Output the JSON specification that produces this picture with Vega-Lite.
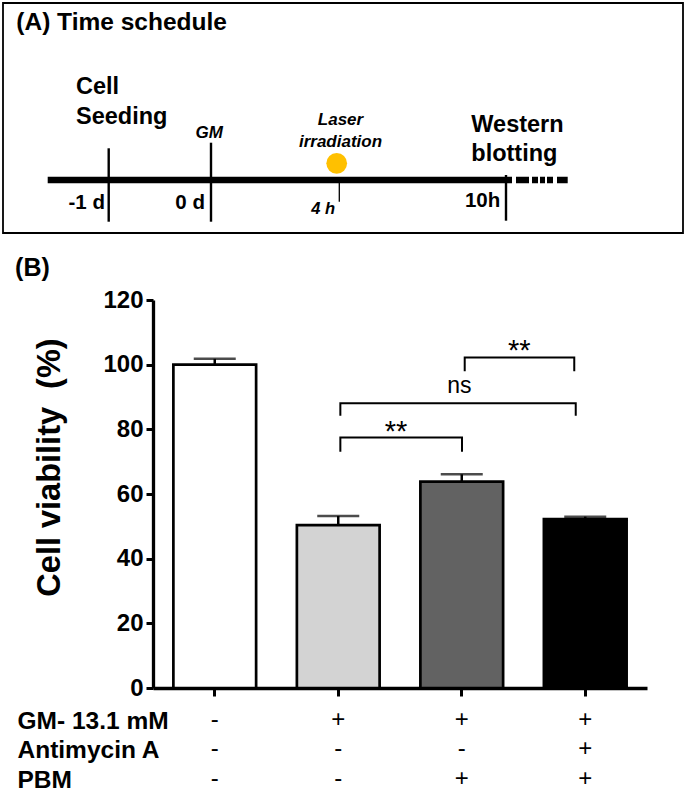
{
  "$schema": "https://vega.github.io/schema/vega-lite/v6.json",
  "padding": {"left": 2, "top": 2, "right": 0, "bottom": 0},
  "config": {"font": "Liberation Sans", "view": {"stroke": null}},
  "datasets": {
    "frame": [{"x": -28.302, "x2": 100, "y": 0, "y2": 100}],
    "schedLine": [
      {"seg": "solid", "x": -19.868, "x2": 67.736, "y": 23.04},
      {"seg": "dashed", "x": 67.736, "x2": 78.245, "y": 23.04}
    ],
    "schedMarks": [
      {"event": "-1 d", "x": -8.358, "y": 4.91, "y2": 36.83, "kind": "major"},
      {"event": "0 d", "x": 10.943, "y": 4.91, "y2": 39.26, "kind": "major"},
      {"event": "4 h", "x": 35.151, "y": 13.61, "y2": 23.04, "kind": "minor"},
      {"event": "10h", "x": 66.604, "y": 5.35, "y2": 25.22, "kind": "major"}
    ],
    "laser": [{"x": 34.66, "y": 30.3}],
    "schedText": [
      {"text": "(A) Time schedule", "x": -25.792, "y": 88.26, "style": "title"},
      {"text": "Cell\nSeeding", "x": -14.528, "y": 60.3, "style": "event"},
      {"text": "Western\nblotting", "x": 60.057, "y": 44.04, "style": "event"},
      {"text": "GM", "x": 10.623, "y": 41.43, "style": "treat"},
      {"text": "Laser\nirradiation", "x": 35.377, "y": 46.96, "style": "treat"},
      {"text": "-1 d", "x": -9.057, "y": 10.43, "style": "time"},
      {"text": "0 d", "x": 9.811, "y": 10.43, "style": "time"},
      {"text": "10h", "x": 65.528, "y": 11.17, "style": "time"},
      {"text": "4 h", "x": 34.34, "y": 8.26, "style": "timeItalic"}
    ],
    "viability": [
      {"code": "-|-|-", "mean": 100, "upper": 101.8},
      {"code": "+|-|-", "mean": 50.4, "upper": 53.2},
      {"code": "+|-|+", "mean": 63.8, "upper": 66.1},
      {"code": "+|+|+", "mean": 52.2, "upper": 53.0}
    ],
    "brackets": [
      {"id": "b1", "k": 1, "bx": 1.517, "by": 73.1},
      {"id": "b1", "k": 2, "bx": 1.517, "by": 77.5},
      {"id": "b1", "k": 3, "bx": 2.502, "by": 77.5},
      {"id": "b1", "k": 4, "bx": 2.502, "by": 73.1},
      {"id": "b2", "k": 1, "bx": 1.517, "by": 84.2},
      {"id": "b2", "k": 2, "bx": 1.517, "by": 88.1},
      {"id": "b2", "k": 3, "bx": 3.423, "by": 88.1},
      {"id": "b2", "k": 4, "bx": 3.423, "by": 84.2},
      {"id": "b3", "k": 1, "bx": 2.524, "by": 98.0},
      {"id": "b3", "k": 2, "bx": 2.524, "by": 102.2},
      {"id": "b3", "k": 3, "bx": 3.411, "by": 102.2},
      {"id": "b3", "k": 4, "bx": 3.411, "by": 98.0}
    ],
    "sig": [
      {"lbl": "**", "tx": 1.968, "ty": 76.5},
      {"lbl": "ns", "tx": 2.48, "ty": 91.1},
      {"lbl": "**", "tx": 2.966, "ty": 101.3}
    ],
    "panel": [{"lbl": "(B)", "tx": -1.117, "ty": 127.4}]
  },
  "concat": [
    {
      "width": 530,
      "height": 230,
      "layer": [
        {
          "data": {"name": "frame"},
          "mark": {"type": "rect", "filled": false, "color": "black", "strokeWidth": 1.8},
          "encoding": {
            "x": {"field": "x", "type": "quantitative", "scale": {"domain": [0, 100], "nice": false, "zero": false}, "axis": null},
            "x2": {"field": "x2"},
            "y": {"field": "y", "type": "quantitative", "scale": {"domain": [0, 100], "nice": false, "zero": false}, "axis": null},
            "y2": {"field": "y2"}
          }
        },
        {
          "data": {"name": "schedLine"},
          "transform": [{"filter": "datum.seg === 'solid'"}],
          "mark": {"type": "rule", "strokeWidth": 6.7, "color": "black"},
          "encoding": {
            "x": {"field": "x", "type": "quantitative", "axis": null},
            "x2": {"field": "x2"},
            "y": {"field": "y", "type": "quantitative", "axis": null}
          }
        },
        {
          "data": {"name": "schedLine"},
          "transform": [{"filter": "datum.seg === 'dashed'"}],
          "mark": {"type": "rule", "strokeWidth": 6.7, "color": "black", "strokeDash": [0, 4, 13, 3, 6, 2, 5, 2, 6, 4, 12]},
          "encoding": {
            "x": {"field": "x", "type": "quantitative", "axis": null},
            "x2": {"field": "x2"},
            "y": {"field": "y", "type": "quantitative", "axis": null}
          }
        },
        {
          "data": {"name": "schedMarks"},
          "mark": {"type": "rule", "color": "black"},
          "encoding": {
            "x": {"field": "x", "type": "quantitative", "axis": null},
            "y": {"field": "y", "type": "quantitative", "axis": null},
            "y2": {"field": "y2"},
            "strokeWidth": {"field": "kind", "type": "nominal", "scale": {"domain": ["major", "minor"], "range": [2.4, 1.3]}, "legend": null}
          }
        },
        {
          "data": {"name": "laser"},
          "mark": {"type": "circle", "size": 430, "color": "#FFC000", "opacity": 1},
          "encoding": {
            "x": {"field": "x", "type": "quantitative", "axis": null},
            "y": {"field": "y", "type": "quantitative", "axis": null}
          }
        },
        {
          "data": {"name": "schedText"},
          "transform": [{"filter": "datum.style === 'title'"}],
          "mark": {"type": "text", "fontSize": 24.5, "fontWeight": "bold", "align": "left", "baseline": "alphabetic", "color": "black"},
          "encoding": {
            "x": {"field": "x", "type": "quantitative", "axis": null},
            "y": {"field": "y", "type": "quantitative", "axis": null},
            "text": {"field": "text"}
          }
        },
        {
          "data": {"name": "schedText"},
          "transform": [{"filter": "datum.style === 'event'"}],
          "mark": {"type": "text", "fontSize": 23.5, "fontWeight": "bold", "align": "left", "baseline": "alphabetic", "lineBreak": "\n", "lineHeight": 29.5, "color": "black"},
          "encoding": {
            "x": {"field": "x", "type": "quantitative", "axis": null},
            "y": {"field": "y", "type": "quantitative", "axis": null},
            "text": {"field": "text"}
          }
        },
        {
          "data": {"name": "schedText"},
          "transform": [{"filter": "datum.style === 'treat'"}],
          "mark": {"type": "text", "fontSize": 17, "fontWeight": "bold", "fontStyle": "italic", "align": "center", "baseline": "alphabetic", "lineBreak": "\n", "lineHeight": 21.7, "color": "black"},
          "encoding": {
            "x": {"field": "x", "type": "quantitative", "axis": null},
            "y": {"field": "y", "type": "quantitative", "axis": null},
            "text": {"field": "text"}
          }
        },
        {
          "data": {"name": "schedText"},
          "transform": [{"filter": "datum.style === 'time'"}],
          "mark": {"type": "text", "fontSize": 20.5, "fontWeight": "bold", "align": "right", "baseline": "alphabetic", "color": "black"},
          "encoding": {
            "x": {"field": "x", "type": "quantitative", "axis": null},
            "y": {"field": "y", "type": "quantitative", "axis": null},
            "text": {"field": "text"}
          }
        },
        {
          "data": {"name": "schedText"},
          "transform": [{"filter": "datum.style === 'timeItalic'"}],
          "mark": {"type": "text", "fontSize": 16.5, "fontWeight": "bold", "fontStyle": "italic", "align": "right", "baseline": "alphabetic", "color": "black"},
          "encoding": {
            "x": {"field": "x", "type": "quantitative", "axis": null},
            "y": {"field": "y", "type": "quantitative", "axis": null},
            "text": {"field": "text"}
          }
        }
      ]
    },
    {
      "width": 494,
      "height": 388,
      "layer": [
        {
          "data": {"name": "viability"},
          "layer": [
            {
              "mark": {"type": "bar", "stroke": "black", "strokeWidth": 2.7},
              "encoding": {
                "x": {
                  "field": "code", "type": "nominal", "sort": null,
                  "scale": {"paddingInner": 0.33, "paddingOuter": 0.165},
                  "axis": {
                    "title": ["GM- 13.1 mM", "Antimycin A", "PBM"],
                    "titleX": -136, "titleY": 40, "titleAlign": "left", "titleAngle": 0, "titleBaseline": "alphabetic",
                    "titleFontSize": 24.5, "titleFontWeight": "bold", "titleLineHeight": 29.5, "titleColor": "black",
                    "labelExpr": "split(datum.value, '|')", "labelAngle": 0, "labelFontSize": 24, "labelFontWeight": "normal",
                    "labelLineHeight": 29.5, "labelBaseline": "alphabetic", "labelPadding": 30, "labelColor": "black",
                    "domainColor": "black", "domainWidth": 3.3, "tickColor": "black", "tickWidth": 3, "tickSize": 8, "grid": false
                  }
                },
                "y": {
                  "field": "mean", "type": "quantitative",
                  "scale": {"domain": [0, 120], "nice": false},
                  "axis": {
                    "title": "Cell viability\u00a0 (%)", "titleX": -94, "titleY": 167, "titleAngle": 270, "titleAlign": "center",
                    "titleBaseline": "alphabetic", "titleFontSize": 32.5, "titleFontWeight": "bold", "titleColor": "black",
                    "values": [0, 20, 40, 60, 80, 100, 120], "labelFontSize": 24, "labelFontWeight": "bold", "labelPadding": 3,
                    "labelColor": "black", "tickSize": 7, "tickWidth": 3, "tickColor": "black", "domainColor": "black",
                    "domainWidth": 3.3, "grid": false
                  }
                },
                "fill": {"field": "code", "type": "nominal", "sort": null, "scale": {"range": ["#ffffff", "#d3d3d3", "#626262", "#000000"]}, "legend": null}
              }
            },
            {
              "mark": {"type": "rule", "strokeWidth": 2.5, "color": "black"},
              "encoding": {
                "x": {"field": "code", "type": "nominal", "sort": null},
                "y": {"field": "mean", "type": "quantitative"},
                "y2": {"field": "upper"}
              }
            },
            {
              "mark": {"type": "tick", "size": 42, "thickness": 2.5, "color": "black", "orient": "horizontal"},
              "encoding": {
                "x": {"field": "code", "type": "nominal", "sort": null},
                "y": {"field": "upper", "type": "quantitative"}
              }
            }
          ]
        },
        {
          "layer": [
            {
              "data": {"name": "brackets"},
              "mark": {"type": "line", "strokeWidth": 2, "color": "black"},
              "encoding": {
                "x": {"field": "bx", "type": "quantitative", "scale": {"domain": [0, 4], "nice": false, "zero": false}, "axis": null},
                "y": {"field": "by", "type": "quantitative"},
                "detail": {"field": "id"},
                "order": {"field": "k"}
              }
            },
            {
              "data": {"name": "sig"},
              "transform": [{"filter": "datum.lbl === '**'"}],
              "mark": {"type": "text", "fontSize": 29, "align": "center", "baseline": "alphabetic", "color": "black"},
              "encoding": {
                "x": {"field": "tx", "type": "quantitative", "axis": null},
                "y": {"field": "ty", "type": "quantitative"},
                "text": {"field": "lbl"}
              }
            },
            {
              "data": {"name": "sig"},
              "transform": [{"filter": "datum.lbl === 'ns'"}],
              "mark": {"type": "text", "fontSize": 23, "align": "center", "baseline": "alphabetic", "color": "black"},
              "encoding": {
                "x": {"field": "tx", "type": "quantitative", "axis": null},
                "y": {"field": "ty", "type": "quantitative"},
                "text": {"field": "lbl"}
              }
            },
            {
              "data": {"name": "panel"},
              "mark": {"type": "text", "fontSize": 25, "fontWeight": "bold", "align": "left", "baseline": "alphabetic", "color": "black"},
              "encoding": {
                "x": {"field": "tx", "type": "quantitative", "axis": null},
                "y": {"field": "ty", "type": "quantitative"},
                "text": {"field": "lbl"}
              }
            }
          ]
        }
      ],
      "resolve": {"scale": {"x": "independent"}}
    }
  ],
  "columns": 1,
  "spacing": 22
}
